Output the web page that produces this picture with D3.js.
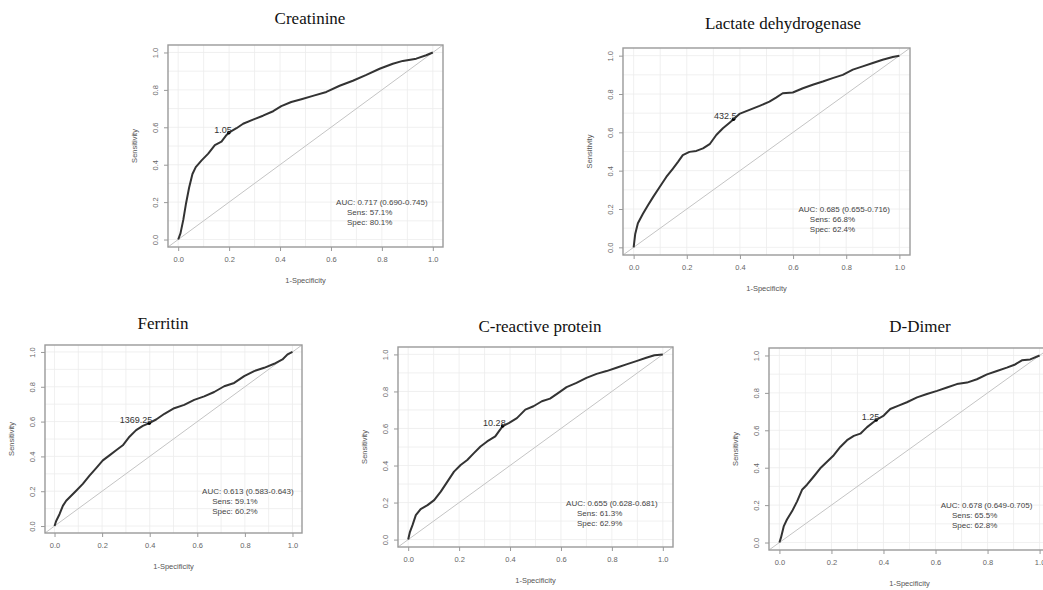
<!DOCTYPE html>
<html>
<head>
<meta charset="utf-8">
<title>ROC curves</title>
<script src="https://cdn.jsdelivr.net/npm/d3@7"></script>
<style>
	*{ margin:0; padding:0; }
	body{ background:#fff; }
	svg{ display:block; }
	.title{ font-family:"Liberation Serif","Times New Roman",serif; font-size:17px; fill:#111; }
	.tick text{ font-family:"Liberation Sans",Arial,sans-serif; font-size:7.5px; fill:#666; }
	.tick line{ stroke:#999; }
	.lab{ font-family:"Liberation Sans",Arial,sans-serif; font-size:7.5px; fill:#555; }
	.auc{ font-family:"Liberation Sans",Arial,sans-serif; font-size:8px; fill:#444; }
	.thr{ font-family:"Liberation Sans",Arial,sans-serif; font-size:9px; fill:#333; }
</style>
</head>
<body>
<svg id="chart" width="1043" height="590"></svg>
<script>
// ---- data ----
var titles = ["Creatinine", "Lactate dehydrogenase", "Ferritin", "C-reactive protein", "D-Dimer"];
var aucText = ["AUC: 0.717 (0.690-0.745)", "AUC: 0.685 (0.655-0.716)", "AUC: 0.613 (0.583-0.643)",
               "AUC: 0.655 (0.628-0.681)", "AUC: 0.678 (0.649-0.705)"];
var sens = [57.1, 66.8, 59.1, 61.3, 65.5];
var spec = [80.1, 62.4, 60.2, 62.9, 62.8];
var thresholds = ["1.05", "432.5", "1369.25", "10.28", "1.25"];
var ticks = [0, 0.2, 0.4, 0.6, 0.8, 1.0];

// [1-specificity, sensitivity]
var creatinine = [[0,0],[0.009,0.033],[0.02,0.105],[0.03,0.187],[0.043,0.278],[0.056,0.35],[0.069,0.387],
	[0.092,0.423],[0.118,0.459],[0.144,0.505],[0.17,0.523],[0.19,0.559],[0.199,0.571],[0.229,0.595],
	[0.255,0.619],[0.294,0.641],[0.333,0.662],[0.373,0.686],[0.405,0.713],[0.444,0.735],[0.484,0.75],
	[0.529,0.768],[0.582,0.789],[0.634,0.822],[0.686,0.849],[0.739,0.88],[0.791,0.913],[0.843,0.94],
	[0.882,0.955],[0.935,0.967],[0.974,0.985],[1,1]];
var ldh = [[0,0],[0.006,0.07],[0.016,0.126],[0.035,0.175],[0.054,0.219],[0.073,0.262],[0.098,0.315],
	[0.123,0.367],[0.148,0.411],[0.167,0.446],[0.185,0.481],[0.21,0.498],[0.236,0.503],[0.261,0.516],
	[0.286,0.538],[0.311,0.586],[0.336,0.621],[0.361,0.65],[0.376,0.668],[0.398,0.696],[0.436,0.717],
	[0.474,0.738],[0.511,0.76],[0.536,0.781],[0.561,0.804],[0.599,0.808],[0.637,0.83],[0.674,0.848],
	[0.712,0.865],[0.749,0.883],[0.787,0.9],[0.825,0.927],[0.862,0.944],[0.9,0.962],[0.937,0.979],
	[0.975,0.993],[1,1]];
var ferritin = [[0,0],[0.007,0.029],[0.021,0.068],[0.035,0.116],[0.049,0.145],[0.07,0.174],[0.091,0.203],
	[0.119,0.242],[0.147,0.29],[0.175,0.333],[0.203,0.377],[0.231,0.406],[0.259,0.435],[0.287,0.464],
	[0.315,0.513],[0.343,0.551],[0.371,0.575],[0.398,0.591],[0.427,0.612],[0.462,0.645],[0.503,0.677],
	[0.545,0.696],[0.587,0.725],[0.629,0.745],[0.671,0.77],[0.713,0.803],[0.755,0.822],[0.797,0.861],
	[0.839,0.89],[0.881,0.909],[0.923,0.932],[0.958,0.957],[0.979,0.986],[1,1]];
var crp = [[0,0],[0.007,0.042],[0.017,0.078],[0.03,0.132],[0.049,0.165],[0.076,0.186],[0.102,0.213],
	[0.128,0.259],[0.154,0.313],[0.18,0.367],[0.206,0.403],[0.232,0.43],[0.258,0.467],[0.284,0.503],
	[0.31,0.53],[0.342,0.557],[0.371,0.613],[0.395,0.629],[0.427,0.656],[0.46,0.702],[0.492,0.72],
	[0.525,0.747],[0.557,0.761],[0.59,0.792],[0.622,0.823],[0.661,0.846],[0.7,0.873],[0.74,0.895],
	[0.779,0.91],[0.818,0.928],[0.857,0.946],[0.896,0.964],[0.935,0.982],[0.967,0.995],[1,1]];
var dDimer = [[0,0],[0.006,0.026],[0.017,0.088],[0.029,0.123],[0.049,0.168],[0.068,0.22],[0.087,0.282],
	[0.106,0.309],[0.132,0.353],[0.157,0.397],[0.183,0.432],[0.209,0.467],[0.234,0.511],[0.26,0.547],
	[0.286,0.57],[0.311,0.582],[0.337,0.617],[0.372,0.655],[0.401,0.679],[0.426,0.714],[0.458,0.732],
	[0.49,0.75],[0.529,0.776],[0.567,0.794],[0.606,0.811],[0.644,0.829],[0.682,0.847],[0.721,0.855],
	[0.759,0.873],[0.798,0.899],[0.836,0.917],[0.874,0.935],[0.906,0.952],[0.932,0.974],[0.964,0.979],[1,1]];
var curves = [creatinine, ldh, ferritin, crp, dDimer];

// ---- layout: plot box of each panel and title centre ----
var layout = [
	{x:168, y:45,  w:275, h:202, tx:310, ty:24},
	{x:623, y:48,  w:287, h:207, tx:783, ty:29},
	{x:45,  y:345, w:257, h:188, tx:163, ty:329},
	{x:398, y:347, w:275, h:200, tx:540, ty:332},
	{x:769, y:348, w:281, h:202, tx:920, ty:332}
];

var svg = d3.select("#chart");
var dom = [-0.04, 1.04];
var grid = d3.range(0, 11).map(function(d){ return d/10; });

layout.forEach(function(L, i){
	var xs = d3.scaleLinear().domain(dom).range([L.x, L.x + L.w]);
	var ys = d3.scaleLinear().domain(dom).range([L.y + L.h, L.y]);
	var g = svg.append("g");

	g.append("text").attr("class", "title")
		.attr("x", L.tx).attr("y", L.ty)
		.attr("text-anchor", "middle")
		.text(titles[i]);

	// grid
	g.selectAll(".gv").data(grid).enter().append("line")
		.attr("x1", xs).attr("x2", xs)
		.attr("y1", L.y).attr("y2", L.y + L.h)
		.attr("stroke", "#ececec").attr("stroke-width", 0.8);
	g.selectAll(".gh").data(grid).enter().append("line")
		.attr("y1", ys).attr("y2", ys)
		.attr("x1", L.x).attr("x2", L.x + L.w)
		.attr("stroke", "#ececec").attr("stroke-width", 0.8);

	// diagonal
	g.append("line")
		.attr("x1", xs(dom[0])).attr("y1", ys(dom[0]))
		.attr("x2", xs(dom[1])).attr("y2", ys(dom[1]))
		.attr("stroke", "#c4c4c4").attr("stroke-width", 1);

	// box
	g.append("rect")
		.attr("x", L.x).attr("y", L.y).attr("width", L.w).attr("height", L.h)
		.attr("fill", "none").attr("stroke", "#9a9a9a").attr("stroke-width", 1.4);

	// axes
	var xa = g.append("g").attr("transform", "translate(0," + (L.y + L.h) + ")")
		.call(d3.axisBottom(xs).tickValues(ticks).tickFormat(d3.format(".1f")).tickSize(4).tickPadding(6));
	xa.select(".domain").remove();

	var ya = g.append("g").attr("transform", "translate(" + L.x + ",0)")
		.call(d3.axisLeft(ys).tickValues(ticks).tickFormat(d3.format(".1f")).tickSize(4));
	ya.select(".domain").remove();
	ya.selectAll("text")
		.attr("x", 0).attr("y", -10).attr("dy", 0)
		.attr("text-anchor", "middle")
		.attr("transform", "rotate(-90)");

	g.append("text").attr("class", "lab")
		.attr("x", L.x + L.w / 2).attr("y", L.y + L.h + 36)
		.attr("text-anchor", "middle")
		.text("1-Specificity");
	g.append("text").attr("class", "lab")
		.attr("transform", "translate(" + (L.x - 31) + "," + (L.y + L.h / 2) + ") rotate(-90)")
		.attr("text-anchor", "middle")
		.text("Sensitivity");

	// ROC curve
	var line = d3.line().x(function(d){ return xs(d[0]); }).y(function(d){ return ys(d[1]); });
	g.append("path").datum(curves[i])
		.attr("d", line)
		.attr("fill", "none").attr("stroke", "#333").attr("stroke-width", 2)
		.attr("stroke-linejoin", "round");

	// best threshold
	var px = xs(1 - spec[i] / 100), py = ys(sens[i] / 100);
	g.append("circle").attr("cx", px).attr("cy", py).attr("r", 1.8).attr("fill", "#000");
	g.append("text").attr("class", "thr")
		.attr("x", px + 3).attr("y", py)
		.attr("text-anchor", "end")
		.text(thresholds[i]);

	// AUC text
	var ay = ys(0.2);
	g.append("text").attr("class", "auc")
		.attr("x", xs(0.62)).attr("y", ay + 3)
		.text(aucText[i]);
	g.append("text").attr("class", "auc")
		.attr("x", xs(0.663)).attr("y", ay + 13)
		.text("Sens: " + sens[i].toFixed(1) + "%");
	g.append("text").attr("class", "auc")
		.attr("x", xs(0.663)).attr("y", ay + 23)
		.text("Spec: " + spec[i].toFixed(1) + "%");
});
</script>
</body>
</html>
